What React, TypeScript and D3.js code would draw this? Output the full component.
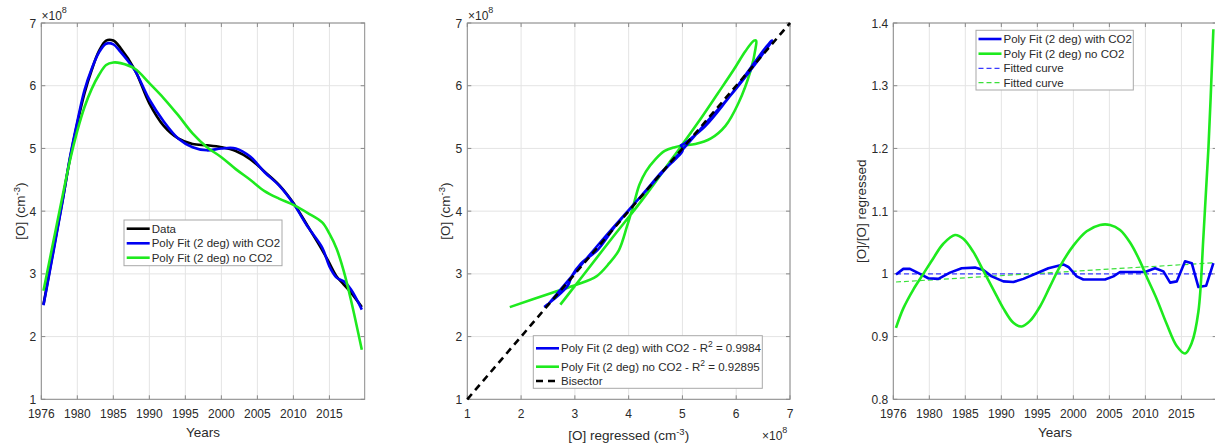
import React from "react";
import * as d3 from "d3";

// Time grid (decimal years) shared by the observed series and both polynomial fits.
const years = [1975.3, 1976, 1977, 1978, 1979, 1980, 1981, 1982, 1983, 1984, 1985, 1986, 1988, 1990, 1992, 1994, 1996, 1998, 2000, 2002, 2004, 2006, 2008, 2010, 2012, 2014, 2015, 2016, 2017, 2018, 2019.5];
// [O] in units of 1e8 cm^-3
const observed = [2.51, 2.95, 3.58, 4.2, 4.85, 5.4, 5.88, 6.25, 6.55, 6.72, 6.72, 6.6, 6.25, 5.72, 5.36, 5.16, 5.07, 5.05, 5.02, 4.96, 4.83, 4.63, 4.42, 4.13, 3.76, 3.38, 3.17, 2.96, 2.83, 2.7, 2.47];
const fitWithCO2 = [2.5, 2.93, 3.55, 4.19, 4.87, 5.43, 5.93, 6.27, 6.53, 6.67, 6.66, 6.54, 6.24, 5.78, 5.43, 5.16, 5.02, 4.97, 5.0, 5.0, 4.87, 4.62, 4.41, 4.12, 3.75, 3.42, 3.12, 2.94, 2.88, 2.75, 2.43];
const fitNoCO2 = [2.73, 3.13, 3.7, 4.27, 4.82, 5.28, 5.66, 5.95, 6.17, 6.33, 6.37, 6.36, 6.27, 6.04, 5.8, 5.53, 5.24, 5.02, 4.86, 4.67, 4.5, 4.32, 4.2, 4.1, 3.97, 3.82, 3.64, 3.4, 3.04, 2.58, 1.79];

// Ratio [O]/[O] regressed
const ratioYearsCO2 = [1975.37, 1976.39, 1977.31, 1978.7, 1979.86, 1981.25, 1982.87, 1984.49, 1986.34, 1987.5, 1988.66, 1990.28, 1991.67, 1993.06, 1994.91, 1996.53, 1998.61, 1999.31, 2000.46, 2001.39, 2002.78, 2004.4, 2005.56, 2006.48, 2007.87, 2009.95, 2011.34, 2012.5, 2013.43, 2014.35, 2015.51, 2016.44, 2017.36, 2018.43, 2019.44];
const ratioWithCO2 = [0.999, 1.008, 1.008, 1.0, 0.993, 0.992, 1.002, 1.009, 1.01, 1.006, 0.996, 0.988, 0.987, 0.992, 1.001, 1.009, 1.015, 1.011, 0.996, 0.991, 0.991, 0.991, 0.996, 1.003, 1.003, 1.003, 1.009, 1.004, 0.986, 0.988, 1.02, 1.017, 0.979, 0.981, 1.017];
const ratioYearsNoCO2 = [1975.37, 1976.39, 1977.78, 1979.17, 1980.56, 1981.94, 1983.56, 1984.72, 1986.11, 1987.5, 1988.89, 1990.28, 1991.67, 1992.82, 1993.98, 1995.37, 1996.76, 1998.15, 2000, 2001.85, 2003.7, 2005.09, 2006.48, 2007.87, 2009.26, 2010.19, 2011.57, 2012.96, 2014.35, 2015.51, 2016.44, 2017.36, 2018.06, 2018.75, 2019.44];
const ratioNoCO2 = [0.914, 0.945, 0.975, 1.0, 1.025, 1.048, 1.062, 1.056, 1.035, 1.005, 0.975, 0.945, 0.922, 0.916, 0.925, 0.948, 0.98, 1.012, 1.045, 1.068, 1.078, 1.078, 1.07, 1.05, 1.02, 0.995, 0.96, 0.92, 0.885, 0.873, 0.89, 0.94, 1.06, 1.2, 1.39];

// Linear trends fitted to the ratios
const trendYears = [1975.37, 2019.9];
const trendWithCO2 = [1.0, 1.0];
const trendNoCO2 = [0.987, 1.018];

// Axes
const yearDomain = [1975, 2019.9];
const yearTicks = [1975, 1980, 1985, 1990, 1995, 2000, 2005, 2010, 2015];
const yearTickLabels = ["1976", "1980", "1985", "1990", "1995", "2000", "2005", "2010", "2015"];
const densityTicks = [1, 2, 3, 4, 5, 6, 7];
const ratioTicks = [0.8, 0.9, 1.0, 1.1, 1.2, 1.3, 1.4];
const ratioTickLabels = ["0.8", "0.9", "1", "1.1", "1.2", "1.3", "1.4"];

const legendMain = ["Data", "Poly Fit (2 deg) with CO2", "Poly Fit (2 deg) no CO2"];
const r2WithCO2 = "0.9984";
const r2NoCO2 = "0.92895";

const BLUE = "#0000f2";
const GREEN = "#1eea1e";
const BLACK = "#000000";
const GRID = "#e4e4e4";
const AXIS = "#8a8a8a";
const TEXT = "#2a2a2a";
const FONT = "'Liberation Sans', Arial, Helvetica, sans-serif";

type Box = { left: number; right: number; top: number; bottom: number };

function Frame({ box, x, y, xTicks, xLabels, yTicks, yLabels }: any) {
  const tl = 4;
  return (
    <g>
      {xTicks.map((t: number, i: number) => (
        <line key={"gx" + i} x1={x(t)} x2={x(t)} y1={box.top} y2={box.bottom} stroke={GRID} strokeWidth={1} />
      ))}
      {yTicks.map((t: number, i: number) => (
        <line key={"gy" + i} x1={box.left} x2={box.right} y1={y(t)} y2={y(t)} stroke={GRID} strokeWidth={1} />
      ))}
      <rect x={box.left} y={box.top} width={box.right - box.left} height={box.bottom - box.top} fill="none" stroke={AXIS} strokeWidth={1} />
      {xTicks.map((t: number, i: number) => (
        <g key={"tx" + i}>
          <line x1={x(t)} x2={x(t)} y1={box.bottom} y2={box.bottom - tl} stroke={AXIS} />
          <line x1={x(t)} x2={x(t)} y1={box.top} y2={box.top + tl} stroke={AXIS} />
          <text x={x(t)} y={box.bottom + 19} textAnchor="middle" fontSize={12} fill={TEXT} fontFamily={FONT}>{xLabels[i]}</text>
        </g>
      ))}
      {yTicks.map((t: number, i: number) => (
        <g key={"ty" + i}>
          <line x1={box.left} x2={box.left + tl} y1={y(t)} y2={y(t)} stroke={AXIS} />
          <line x1={box.right} x2={box.right - tl} y1={y(t)} y2={y(t)} stroke={AXIS} />
          <text x={box.left - 5} y={y(t) + 4.5} textAnchor="end" fontSize={12} fill={TEXT} fontFamily={FONT}>{yLabels[i]}</text>
        </g>
      ))}
    </g>
  );
}

function Exponent({ x, y }: { x: number; y: number }) {
  return (
    <text x={x} y={y} fontSize={12} fill={TEXT} fontFamily={FONT}>
      ×10<tspan dy={-7} fontSize={9}>8</tspan>
    </text>
  );
}

function LegendRow({ x, y, color, dash, width, label }: any) {
  return (
    <g>
      <line x1={x} x2={x + 23} y1={y} y2={y} stroke={color} strokeWidth={width} strokeDasharray={dash} />
      <text x={x + 25} y={y + 4} fontSize={11.5} fill={TEXT} fontFamily={FONT}>{label}</text>
    </g>
  );
}

export default function App() {
  const smooth = d3.curveCatmullRom.alpha(0.5);

  // Panel 1: time series
  const b1: Box = { left: 41.3, right: 364.7, top: 23, bottom: 399.3 };
  const x1 = d3.scaleLinear().domain(yearDomain).range([b1.left, b1.right]);
  const y1 = d3.scaleLinear().domain([1, 7]).range([b1.bottom, b1.top]);
  const ts = (vals: number[]) =>
    d3.line<number>().x((_, i) => x1(years[i])).y((v) => y1(v)).curve(smooth)(vals) || "";

  // Panel 2: observed vs regressed
  const b2: Box = { left: 467.3, right: 790, top: 23, bottom: 399.3 };
  const x2 = d3.scaleLinear().domain([1, 7]).range([b2.left, b2.right]);
  const y2 = d3.scaleLinear().domain([1, 7]).range([b2.bottom, b2.top]);
  const scatter = (fit: number[]) =>
    d3.line<number>().x((v) => x2(v)).y((_, i) => y2(observed[i])).curve(smooth)(fit) || "";

  // Panel 3: ratio
  const b3: Box = { left: 893.3, right: 893.3 + 323.4, top: 23, bottom: 399.3 };
  const x3 = d3.scaleLinear().domain(yearDomain).range([b3.left, b3.right]);
  const y3 = d3.scaleLinear().domain([0.8, 1.4]).range([b3.bottom, b3.top]);
  const ratioLine = (xs: number[], vals: number[], curve: any) =>
    d3.line<number>().x((_, i) => x3(xs[i])).y((v) => y3(v)).curve(curve)(vals) || "";

  const densLabels = densityTicks.map(String);

  return (
    <svg width={1215} height={447} style={{ position: "absolute", left: 0, top: 0, background: "#fff" }}>
      <rect x={0} y={0} width={1215} height={447} fill="#fff" />

      {/* ---- Panel 1 ---- */}
      <Frame box={b1} x={x1} y={y1} xTicks={yearTicks} xLabels={yearTickLabels} yTicks={densityTicks} yLabels={densLabels} />
      <path d={ts(observed)} fill="none" stroke={BLACK} strokeWidth={2.6} />
      <path d={ts(fitWithCO2)} fill="none" stroke={BLUE} strokeWidth={2.6} />
      <path d={ts(fitNoCO2)} fill="none" stroke={GREEN} strokeWidth={2.6} />
      <Exponent x={41.5} y={20} />
      <text x={(b1.left + b1.right) / 2} y={437} textAnchor="middle" fontSize={13.5} fill={TEXT} fontFamily={FONT}>Years</text>
      <text transform={`translate(25,${(b1.top + b1.bottom) / 2}) rotate(-90)`} textAnchor="middle" fontSize={13.5} fill={TEXT} fontFamily={FONT}>
        [O] (cm<tspan dy={-5} fontSize={9.5}>-3</tspan><tspan dy={5}>)</tspan>
      </text>
      <g>
        <rect x={124} y={220} width={158} height={45.7} fill="#fff" stroke="#a8a8a8" strokeWidth={1} />
        <LegendRow x={126.7} y={228.7} color={BLACK} width={2.6} label={legendMain[0]} />
        <LegendRow x={126.7} y={243.3} color={BLUE} width={2.6} label={legendMain[1]} />
        <LegendRow x={126.7} y={257.7} color={GREEN} width={2.6} label={legendMain[2]} />
      </g>

      {/* ---- Panel 2 ---- */}
      <Frame box={b2} x={x2} y={y2} xTicks={densityTicks} xLabels={densLabels} yTicks={densityTicks} yLabels={densLabels} />
      <path d={scatter(fitNoCO2)} fill="none" stroke={GREEN} strokeWidth={2.6} />
      <path d={scatter(fitWithCO2)} fill="none" stroke={BLUE} strokeWidth={2.6} />
      <line x1={x2(1)} y1={y2(1)} x2={x2(7)} y2={y2(7)} stroke={BLACK} strokeWidth={2.6} strokeDasharray="7,5" />
      <Exponent x={468} y={20} />
      <Exponent x={762} y={440} />
      <text x={(b2.left + b2.right) / 2} y={440} textAnchor="middle" fontSize={13.5} fill={TEXT} fontFamily={FONT}>
        [O] regressed (cm<tspan dy={-5} fontSize={9.5}>-3</tspan><tspan dy={5}>)</tspan>
      </text>
      <text transform={`translate(450,${(b2.top + b2.bottom) / 2}) rotate(-90)`} textAnchor="middle" fontSize={13.5} fill={TEXT} fontFamily={FONT}>
        [O] (cm<tspan dy={-5} fontSize={9.5}>-3</tspan><tspan dy={5}>)</tspan>
      </text>
      <g>
        <rect x={533.3} y={335.7} width={229} height={52.6} fill="#fff" stroke="#a8a8a8" strokeWidth={1} />
        <line x1={536} x2={559} y1={348.3} y2={348.3} stroke={BLUE} strokeWidth={2.6} />
        <text x={561} y={352.3} fontSize={11.5} fill={TEXT} fontFamily={FONT}>
          {legendMain[1]} - R<tspan dy={-5} fontSize={8.5}>2</tspan><tspan dy={5}> = {r2WithCO2}</tspan>
        </text>
        <line x1={536} x2={559} y1={366.7} y2={366.7} stroke={GREEN} strokeWidth={2.6} />
        <text x={561} y={370.7} fontSize={11.5} fill={TEXT} fontFamily={FONT}>
          {legendMain[2]} - R<tspan dy={-5} fontSize={8.5}>2</tspan><tspan dy={5}> = {r2NoCO2}</tspan>
        </text>
        <line x1={536} x2={559} y1={381} y2={381} stroke={BLACK} strokeWidth={2.6} strokeDasharray="7,5" />
        <text x={561} y={385} fontSize={11.5} fill={TEXT} fontFamily={FONT}>Bisector</text>
      </g>

      {/* ---- Panel 3 ---- */}
      <Frame box={b3} x={x3} y={y3} xTicks={yearTicks} xLabels={yearTickLabels} yTicks={ratioTicks} yLabels={ratioTickLabels} />
      <path d={ratioLine(trendYears, trendWithCO2, d3.curveLinear)} fill="none" stroke="#3a3aff" strokeWidth={1.2} strokeDasharray="5,3" />
      <path d={ratioLine(trendYears, trendNoCO2, d3.curveLinear)} fill="none" stroke="#3ae03a" strokeWidth={1.2} strokeDasharray="5,3" />
      <path d={ratioLine(ratioYearsCO2, ratioWithCO2, d3.curveLinear)} fill="none" stroke={BLUE} strokeWidth={2.6} strokeLinejoin="round" />
      <path d={ratioLine(ratioYearsNoCO2, ratioNoCO2, smooth)} fill="none" stroke={GREEN} strokeWidth={2.6} />
      <text x={1055} y={437} textAnchor="middle" fontSize={13.5} fill={TEXT} fontFamily={FONT}>Years</text>
      <text transform={`translate(866,${(b3.top + b3.bottom) / 2}) rotate(-90)`} textAnchor="middle" fontSize={13.5} fill={TEXT} fontFamily={FONT}>
        [O]/[O] regressed
      </text>
      <g>
        <rect x={976} y={30.3} width={157.3} height={59.7} fill="#fff" stroke="#a8a8a8" strokeWidth={1} />
        <LegendRow x={978.5} y={39} color={BLUE} width={2.6} label={legendMain[1]} />
        <LegendRow x={978.5} y={53.7} color={GREEN} width={2.6} label={legendMain[2]} />
        <LegendRow x={978.5} y={68.3} color="#3a3aff" width={1.2} dash="5,3" label="Fitted curve" />
        <LegendRow x={978.5} y={82.7} color="#3ae03a" width={1.2} dash="5,3" label="Fitted curve" />
      </g>
    </svg>
  );
}
